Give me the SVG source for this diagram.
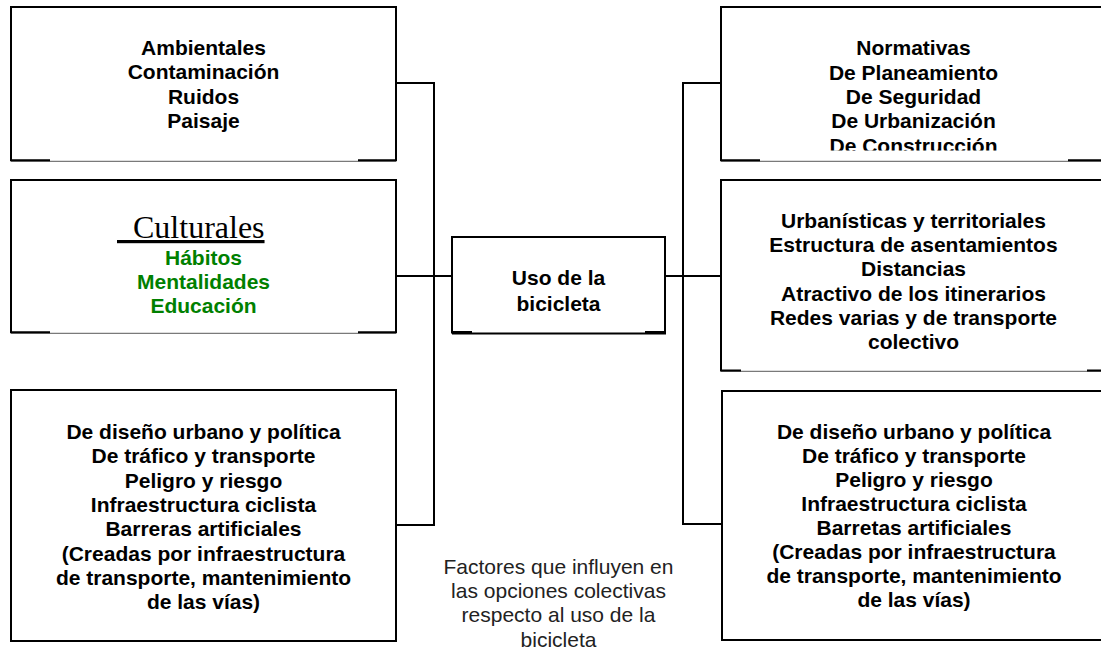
<svg xmlns="http://www.w3.org/2000/svg" width="1101" height="649" viewBox="0 0 1101 649">
<style>
.edge{fill:none;stroke:#000;stroke-width:2}
.thin{fill:none;stroke:#7a7a7a;stroke-width:1.2}
.conn{fill:none;stroke:#000;stroke-width:2}
.t{font-family:"Liberation Sans",Arial,sans-serif;font-weight:bold;font-size:21px;text-anchor:middle;fill:#000}
.g{fill:#008000}
.cap{font-family:"Liberation Sans",Arial,sans-serif;font-size:21px;text-anchor:middle;fill:#222}
.ser{font-family:"Liberation Serif","Times New Roman",serif;font-size:32px;fill:#000}
</style>
<defs>
<clipPath id="clipNorm"><rect x="721" y="7" width="400" height="143.5"/></clipPath>
</defs>
<rect width="1101" height="649" fill="#fff"/>

<g id="connectors">
<path class="conn" d="M396,83 H434 V525 H396"/>
<path class="conn" d="M396,276 H452"/>
<path class="conn" d="M721,83 H683 V524 H722"/>
<path class="conn" d="M665,276 H721"/>
</g>

<g id="ambientales">
<path class="edge" d="M11,161 V7 H396 V161"/>
<path class="thin" d="M11,161.4 H396"/>
<path class="edge" d="M10,160.3 H50 M358,160.3 H397"/>
<text class="t" x="203.5" y="54.5">Ambientales</text>
<text class="t" x="203.5" y="79">Contaminación</text>
<text class="t" x="203.5" y="103.5">Ruidos</text>
<text class="t" x="203.5" y="128">Paisaje</text>
</g>

<g id="culturales">
<path class="edge" d="M11,333 V180 H396 V333"/>
<path class="thin" d="M11,333.4 H396"/>
<path class="edge" d="M10,332.3 H50 M358,332.3 H397"/>
<text class="ser" x="117" y="238" xml:space="preserve" text-decoration="underline">  Culturales</text>
<text class="t g" x="203.5" y="265">Hábitos</text>
<text class="t g" x="203.5" y="289">Mentalidades</text>
<text class="t g" x="203.5" y="313">Educación</text>
</g>

<g id="diseno-izq">
<rect class="edge" x="11" y="390" width="385" height="251"/>
<text class="t" x="203.5" y="439">De diseño urbano y política</text>
<text class="t" x="203.5" y="463.3">De tráfico y transporte</text>
<text class="t" x="203.5" y="487.6">Peligro y riesgo</text>
<text class="t" x="203.5" y="511.9">Infraestructura ciclista</text>
<text class="t" x="203.5" y="536.2">Barreras artificiales</text>
<text class="t" x="203.5" y="560.5">(Creadas por infraestructura</text>
<text class="t" x="203.5" y="584.8">de transporte, mantenimiento</text>
<text class="t" x="203.5" y="609.1">de las vías)</text>
</g>

<g id="uso">
<path class="edge" d="M452,333.5 V237 H665 V333.5 H452"/>
<path class="edge" d="M452,332 H472 M645,332 H665"/>
<text class="t" x="558.5" y="285">Uso de la</text>
<text class="t" x="558.5" y="310.5">bicicleta</text>
</g>

<g id="normativas">
<path class="edge" d="M721,161 V7 H1110"/>
<path class="thin" d="M721,161.4 H1110"/>
<path class="edge" d="M720,160.3 H760 M1068,160.3 H1110"/>
<g clip-path="url(#clipNorm)">
<text class="t" x="913.5" y="54.5">Normativas</text>
<text class="t" x="913.5" y="79.5">De Planeamiento</text>
<text class="t" x="913.5" y="103.5">De Seguridad</text>
<text class="t" x="913.5" y="128">De Urbanización</text>
<text class="t" x="913.5" y="152.5">De Construcción</text>
</g>
</g>

<g id="urbanisticas">
<path class="edge" d="M721,371 V180 H1110"/>
<path class="thin" d="M721,371.4 H1110"/>
<path class="edge" d="M720,370.5 H741 M1087,370.5 H1110"/>
<text class="t" x="913.5" y="227.7">Urbanísticas y territoriales</text>
<text class="t" x="913.5" y="251.8">Estructura de asentamientos</text>
<text class="t" x="913.5" y="276">Distancias</text>
<text class="t" x="913.5" y="300.5">Atractivo de los itinerarios</text>
<text class="t" x="913.5" y="324.7">Redes varias y de transporte</text>
<text class="t" x="913.5" y="348.6">colectivo</text>
</g>

<g id="diseno-der">
<path class="edge" d="M1110,391 H722 V640 H1110"/>
<text class="t" x="914" y="438.5">De diseño urbano y política</text>
<text class="t" x="914" y="462.6">De tráfico y transporte</text>
<text class="t" x="914" y="486.7">Peligro y riesgo</text>
<text class="t" x="914" y="510.8">Infraestructura ciclista</text>
<text class="t" x="914" y="534.9">Barretas artificiales</text>
<text class="t" x="914" y="559">(Creadas por infraestructura</text>
<text class="t" x="914" y="583.1">de transporte, mantenimiento</text>
<text class="t" x="914" y="607.2">de las vías)</text>
</g>

<g id="caption">
<text class="cap" x="558.5" y="574">Factores que influyen en</text>
<text class="cap" x="558.5" y="598.3">las opciones colectivas</text>
<text class="cap" x="558.5" y="622.4">respecto al uso de la</text>
<text class="cap" x="558.5" y="646.6">bicicleta</text>
</g>
</svg>
